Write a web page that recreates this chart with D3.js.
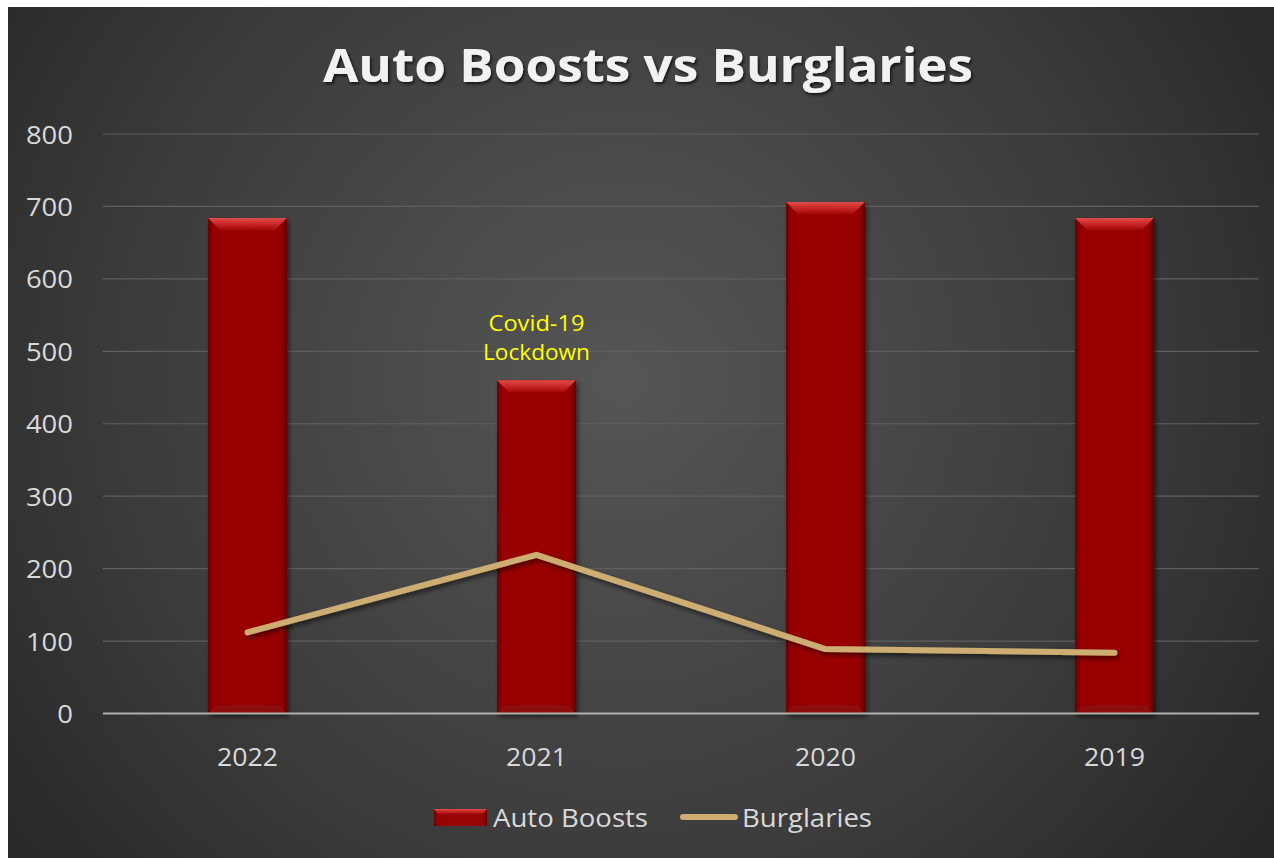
<!DOCTYPE html>
<html><head><meta charset="utf-8">
<script src="https://cdn.jsdelivr.net/npm/d3@7"></script>
<style>body{margin:0;background:#fff;}svg{display:block}</style>
</head><body>
<svg id="c" width="1274" height="858"></svg>
<script>
const categories = ["2022", "2021", "2020", "2019"];
const autoBoosts = [684, 460, 706, 684];
const burglaries = [112, 219, 89, 84];
const yTicks = [0, 100, 200, 300, 400, 500, 600, 700, 800];
const titleText = "Auto Boosts vs Burglaries";
const seriesNames = ["Auto Boosts", "Burglaries"];
const annotationLines = ["Covid-19", "Lockdown"];
const annotationCategory = "2021";

const svg = d3.select("#c");
const W = 1274, H = 858;
const FONT = "'Open Sans', 'Noto Sans', sans-serif";
const defs = svg.append("defs");

const bg = defs.append("radialGradient").attr("id", "bg")
  .attr("gradientUnits", "userSpaceOnUse").attr("cx", 620).attr("cy", 380).attr("r", 800);
bg.append("stop").attr("offset", "0%").attr("stop-color", "#565656");
bg.append("stop").attr("offset", "60%").attr("stop-color", "#3c3c3c");
bg.append("stop").attr("offset", "100%").attr("stop-color", "#262626");

const bs = defs.append("linearGradient").attr("id", "barSide").attr("x1", 0).attr("x2", 1).attr("y1", 0).attr("y2", 0);
[["0%", "#6a0000"], ["7%", "#960404"], ["50%", "#9b0505"], ["93%", "#960404"], ["100%", "#5e0000"]]
  .forEach(([o, c]) => bs.append("stop").attr("offset", o).attr("stop-color", c));
const bt = defs.append("linearGradient").attr("id", "barTop").attr("x1", 0).attr("x2", 0).attr("y1", 0).attr("y2", 1);
[["0%", "#e04a4a"], ["45%", "#cc2a2a"], ["100%", "#a30808"]]
  .forEach(([o, c]) => bt.append("stop").attr("offset", o).attr("stop-color", c));

const sh = defs.append("filter").attr("id", "shadow").attr("x", "-20%").attr("y", "-20%").attr("width", "140%").attr("height", "140%");
sh.append("feDropShadow").attr("dx", 2).attr("dy", 3).attr("stdDeviation", 2.5).attr("flood-color", "#000").attr("flood-opacity", 0.55);
const tsh = defs.append("filter").attr("id", "tshadow").attr("x", "-10%").attr("y", "-30%").attr("width", "120%").attr("height", "160%");
tsh.append("feDropShadow").attr("dx", 1.5).attr("dy", 2).attr("stdDeviation", 1.5).attr("flood-color", "#000").attr("flood-opacity", 0.7);

svg.append("rect").attr("x", 8).attr("y", 7).attr("width", W - 8).attr("height", H - 7).attr("fill", "url(#bg)");

const x = d3.scaleBand().domain(categories).range([103, 1259]).paddingInner(0.727).paddingOuter(0.3635);
const y = d3.scaleLinear().domain([0, 800]).range([713.5, 134]);

svg.append("g").selectAll("line").data(yTicks.filter(d => d > 0)).join("line")
  .attr("x1", 103).attr("x2", 1259).attr("y1", d => y(d)).attr("y2", d => y(d))
  .attr("stroke", "#5f5f5f").attr("stroke-width", 1.2);

const yAxis = d3.axisLeft(y).tickValues(yTicks).tickSize(0).tickPadding(0);
const ya = svg.append("g").attr("transform", "translate(73,0)").call(yAxis);
ya.select(".domain").remove();
ya.selectAll("text").attr("font-family", FONT).attr("font-size", 25).attr("fill", "#d9d9d9").attr("dy", "0.36em")
  .attr("textLength", d => String(d).length * 15.7).attr("lengthAdjust", "spacingAndGlyphs");

const bars = svg.append("g").selectAll("g").data(categories.map((c, i) => ({c, v: autoBoosts[i]}))).join("g")
  .attr("filter", "url(#shadow)");
bars.append("rect").attr("x", d => x(d.c)).attr("y", d => y(d.v)).attr("width", x.bandwidth())
  .attr("height", d => y(0) - y(d.v)).attr("fill", "url(#barSide)");
const bev = 12;
bars.append("path").attr("d", d => {
  const x0 = x(d.c), x1 = x0 + x.bandwidth(), t = y(d.v);
  return `M${x0},${t}L${x1},${t}L${x1 - bev},${t + bev}L${x0 + bev},${t + bev}Z`;
}).attr("fill", "url(#barTop)");
bars.append("path").attr("d", d => {
  const x0 = x(d.c), x1 = x0 + x.bandwidth(), b = y(0);
  return `M${x0},${b}L${x1},${b}L${x1 - 8},${b - 8}L${x0 + 8},${b - 8}Z`;
}).attr("fill", "#8a1010").attr("opacity", 0.8);

svg.append("line").attr("x1", 103).attr("x2", 1259).attr("y1", y(0)).attr("y2", y(0))
  .attr("stroke", "#b0b0b0").attr("stroke-width", 2.2);

const xAxis = d3.axisBottom(x).tickSize(0).tickPadding(0);
const xa = svg.append("g").attr("transform", `translate(0,${y(0)})`).call(xAxis);
xa.select(".domain").remove();
xa.selectAll("text").attr("font-family", FONT).attr("font-size", 25).attr("fill", "#d9d9d9").attr("dy", 0).attr("y", 52)
  .attr("textLength", 61).attr("lengthAdjust", "spacingAndGlyphs");

const line = d3.line().x((d, i) => x(categories[i]) + x.bandwidth() / 2).y(d => y(d));
svg.append("path").datum(burglaries).attr("d", line).attr("fill", "none")
  .attr("stroke", "#cdad72").attr("stroke-width", 6).attr("stroke-linecap", "round").attr("stroke-linejoin", "round")
  .attr("filter", "url(#shadow)");

const ai = categories.indexOf(annotationCategory);
const ax = x(annotationCategory) + x.bandwidth() / 2;
svg.append("text").attr("x", ax).attr("y", y(autoBoosts[ai]) - 20).attr("text-anchor", "middle")
  .attr("font-family", FONT).attr("font-size", 21).attr("fill", "#ffff00")
  .selectAll("tspan").data(annotationLines).join("tspan")
  .attr("x", ax).attr("dy", (d, i) => i === 0 ? -29 : 29)
  .attr("textLength", (d, i) => i === 0 ? 96 : 107).attr("lengthAdjust", "spacingAndGlyphs").text(d => d);

const tt = svg.append("text").attr("x", 648).attr("y", 82).attr("text-anchor", "middle")
  .attr("font-family", FONT).attr("font-weight", "bold").attr("font-size", 47)
  .attr("fill", "#f2f2f2").attr("filter", "url(#tshadow)").text(titleText)
  .attr("textLength", 650).attr("lengthAdjust", "spacingAndGlyphs");

const lg = svg.append("g");
lg.append("rect").attr("x", 434).attr("y", 809).attr("width", 53).attr("height", 17).attr("fill", "url(#barSide)");
lg.append("path").attr("d", "M434,809L487,809L483,814L438,814Z").attr("fill", "url(#barTop)");
lg.append("text").attr("x", 493).attr("y", 827).attr("font-family", FONT).attr("font-size", 25).attr("fill", "#d9d9d9")
  .attr("textLength", 155).attr("lengthAdjust", "spacingAndGlyphs").text(seriesNames[0]);
lg.append("line").attr("x1", 683).attr("x2", 735).attr("y1", 817).attr("y2", 817)
  .attr("stroke", "#cdad72").attr("stroke-width", 6).attr("stroke-linecap", "round");
lg.append("text").attr("x", 742).attr("y", 827).attr("font-family", FONT).attr("font-size", 25).attr("fill", "#d9d9d9")
  .attr("textLength", 130).attr("lengthAdjust", "spacingAndGlyphs").text(seriesNames[1]);
</script>
</body></html>
